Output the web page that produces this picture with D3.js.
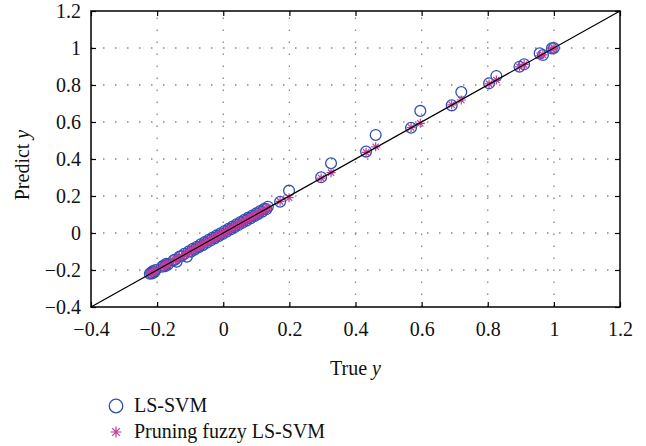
<!DOCTYPE html>
<html>
<head>
<meta charset="UTF-8">
<title>True vs predicted</title>
<script src="https://d3js.org/d3.v7.min.js"></script>
<style>
  body { margin: 0; background: #fff; }
  svg text { font-family: "Liberation Serif", "Times New Roman", serif; fill: #111; }
</style>
</head>
<body>
<svg id="chart" width="646" height="446"></svg>
<script>
// true output and the two models' predictions
const trueY = [
  -0.222, -0.218, -0.215, -0.212, -0.208, -0.205, -0.185, -0.180, -0.176, -0.172,
  -0.168, -0.150, -0.145, -0.141, -0.132, -0.126, -0.118, -0.110, -0.104, -0.098,
  -0.092, -0.086, -0.080, -0.074, -0.068, -0.062, -0.056, -0.050, -0.044, -0.038,
  -0.032, -0.026, -0.020, -0.014, -0.008, -0.002, 0.004, 0.010, 0.016, 0.022,
  0.028, 0.034, 0.040, 0.046, 0.052, 0.058, 0.064, 0.070, 0.076, 0.082,
  0.088, 0.094, 0.100, 0.106, 0.112, 0.118, 0.124, 0.130, 0.135,
  0.172, 0.199, 0.296, 0.326, 0.432, 0.461, 0.568, 0.596, 0.691, 0.720,
  0.804, 0.826, 0.896, 0.910, 0.957, 0.967, 0.994, 1.000
];
const lsSvm = [
  -0.220, -0.214, -0.219, -0.206, -0.211, -0.200, -0.182, -0.176, -0.180, -0.166,
  -0.171, -0.147, -0.143, -0.155, -0.127, -0.124, -0.113, -0.128, -0.099, -0.101,
  -0.085, -0.089, -0.074, -0.077, -0.061, -0.066, -0.049, -0.053, -0.037, -0.041,
  -0.025, -0.029, -0.013, -0.017, -0.001, -0.005, 0.011, 0.007, 0.023, 0.019,
  0.035, 0.031, 0.047, 0.043, 0.059, 0.055, 0.071, 0.067, 0.083, 0.079,
  0.095, 0.091, 0.107, 0.103, 0.119, 0.115, 0.131, 0.128, 0.142,
  0.169, 0.229, 0.301, 0.377, 0.440, 0.530, 0.569, 0.660, 0.690, 0.762,
  0.809, 0.849, 0.899, 0.912, 0.971, 0.962, 0.998, 1.000
];
const fuzzyLsSvm = [
  -0.221, -0.217, -0.214, -0.211, -0.207, -0.204, -0.184, -0.180, -0.175, -0.171,
  -0.167, -0.149, -0.145, -0.142, -0.131, -0.126, -0.117, -0.111, -0.104, -0.097,
  -0.091, -0.086, -0.079, -0.073, -0.067, -0.062, -0.055, -0.049, -0.044, -0.037,
  -0.031, -0.026, -0.019, -0.014, -0.007, -0.002, 0.005, 0.010, 0.017, 0.022,
  0.029, 0.034, 0.041, 0.046, 0.053, 0.058, 0.065, 0.070, 0.077, 0.082,
  0.089, 0.094, 0.101, 0.106, 0.113, 0.118, 0.125, 0.130, 0.136,
  0.171, 0.191, 0.297, 0.326, 0.436, 0.466, 0.570, 0.593, 0.693, 0.719,
  0.806, 0.827, 0.898, 0.911, 0.958, 0.963, 0.995, 0.999
];
const tickValues = [-0.4, -0.2, 0, 0.2, 0.4, 0.6, 0.8, 1, 1.2];
const legendLabels = ["LS-SVM", "Pruning fuzzy LS-SVM"];

const svg = d3.select("#chart");
const pLeft = 91, pRight = 620, pTop = 11, pBottom = 307;
const serif = "'Liberation Serif', 'Times New Roman', serif";

const x = d3.scaleLinear().domain([-0.4, 1.2]).range([pLeft, pRight]);
const y = d3.scaleLinear().domain([-0.4, 1.2]).range([pBottom, pTop]);

const fmt = d => d === 0 ? "0" : (d < 0 ? "\u2212" : "") + String(Math.abs(d));

// dotted grid
const grid = svg.append("g").attr("stroke", "#8a8a8a").attr("stroke-width", 1.3).attr("stroke-dasharray", "1.5,10.5");
grid.selectAll("line.v").data(tickValues.slice(1, -1)).join("line").attr("class", "v")
  .attr("x1", d => x(d)).attr("x2", d => x(d)).attr("y1", pBottom).attr("y2", pTop);
grid.selectAll("line.h").data(tickValues.slice(1, -1)).join("line").attr("class", "h")
  .attr("y1", d => y(d)).attr("y2", d => y(d)).attr("x1", pLeft).attr("x2", pRight);

// axes with inward ticks on all four sides
const axes = [
  [d3.axisBottom(x), `translate(0,${pBottom})`, true, 15],
  [d3.axisTop(x), `translate(0,${pTop})`, false, 0],
  [d3.axisLeft(y), `translate(${pLeft},0)`, true, 10],
  [d3.axisRight(y), `translate(${pRight},0)`, false, 0]
];
axes.forEach(([ax, tr, labels, pad]) => {
  const g = svg.append("g").attr("transform", tr)
    .call(ax.tickValues(tickValues).tickSize(-5).tickPadding(pad).tickFormat(labels ? fmt : ""));
  g.attr("font-family", serif);
  g.select(".domain").remove();
  g.selectAll(".tick line").attr("stroke", "#000").attr("stroke-width", 1.2);
  g.selectAll(".tick text").attr("font-size", 20).attr("fill", "#111");
});

// frame
svg.append("rect").attr("x", pLeft).attr("y", pTop).attr("width", pRight - pLeft).attr("height", pBottom - pTop)
  .attr("fill", "none").attr("stroke", "#000").attr("stroke-width", 1.5);

const blue = "#3050b4", magenta = "#c23c9c";
const star = r => `M${-r},0L${r},0M0,${-r}L0,${r}M${-r * 0.7},${-r * 0.7}L${r * 0.7},${r * 0.7}M${-r * 0.7},${r * 0.7}L${r * 0.7},${-r * 0.7}`;

// LS-SVM circles
svg.append("g").selectAll("circle").data(trueY).join("circle")
  .attr("cx", d => x(d)).attr("cy", (d, i) => y(lsSvm[i])).attr("r", 5.4)
  .attr("fill", "none").attr("stroke", blue).attr("stroke-width", 1.3);

// pruning fuzzy LS-SVM stars
svg.append("g").selectAll("path").data(trueY).join("path")
  .attr("transform", (d, i) => `translate(${x(d)},${y(fuzzyLsSvm[i])})`)
  .attr("d", star(4.5)).attr("fill", "none").attr("stroke", magenta).attr("stroke-width", 1.2);

// y = x reference line
svg.append("line").attr("x1", x(-0.4)).attr("y1", y(-0.4)).attr("x2", x(1.2)).attr("y2", y(1.2))
  .attr("stroke", "#000").attr("stroke-width", 1.2);

// axis titles
const xt = svg.append("text").attr("x", (pLeft + pRight) / 2).attr("y", 375).attr("text-anchor", "middle")
  .attr("font-size", 20).attr("font-family", serif);
xt.append("tspan").text("True ");
xt.append("tspan").attr("font-style", "italic").text("y");
const yt = svg.append("text").attr("transform", `translate(29,${(pTop + pBottom) / 2 + 6}) rotate(-90)`).attr("text-anchor", "middle")
  .attr("font-size", 20).attr("font-family", serif);
yt.append("tspan").text("Predict ");
yt.append("tspan").attr("font-style", "italic").text("y");

// legend
const leg = svg.append("g").attr("transform", "translate(116,406)");
leg.append("circle").attr("r", 6.8).attr("fill", "none").attr("stroke", blue).attr("stroke-width", 1.3);
leg.append("path").attr("transform", "translate(0,26)").attr("d", star(5.5)).attr("fill", "none").attr("stroke", magenta).attr("stroke-width", 1.2);
leg.selectAll("text").data(legendLabels).join("text")
  .attr("x", 18).attr("y", (d, i) => i * 26 + 6).attr("font-size", 20).attr("font-family", serif).text(d => d);
</script>
</body>
</html>
